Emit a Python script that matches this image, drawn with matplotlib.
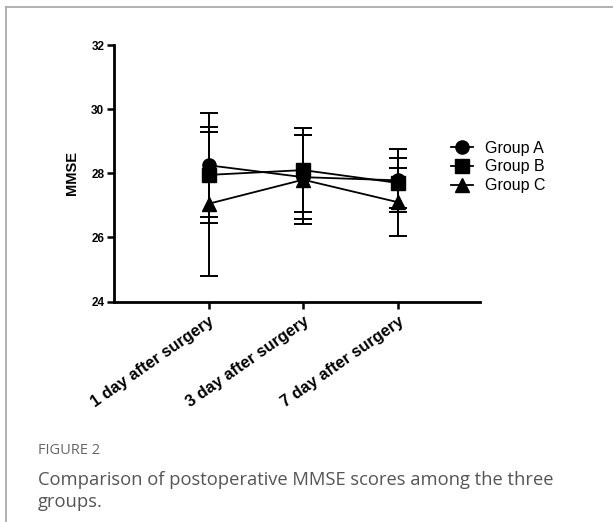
import matplotlib
matplotlib.use("Agg")
import matplotlib.pyplot as plt
from matplotlib.lines import Line2D

categories = ["1 day after surgery", "3 day after surgery", "7 day after surgery"]
groups = ["Group A", "Group B", "Group C"]
group_a_mean = [28.25, 27.88, 27.78]
group_a_sd = [1.62, 1.30, 0.98]
group_b_mean = [27.95, 28.10, 27.70]
group_b_sd = [1.50, 1.32, 0.77]
group_c_mean = [27.05, 27.80, 27.10]
group_c_sd = [2.25, 1.38, 1.05]
y_ticks = [24, 26, 28, 30, 32]

W, H = 613, 522
fig = plt.figure(figsize=(W / 100, H / 100), dpi=100)
fig.patch.set_facecolor("white")

# frame lines (top and left)
fig.add_artist(Line2D([6 / W, 1], [1 - 7 / H, 1 - 7 / H], transform=fig.transFigure,
                      color="#aaaaaa", lw=1.3))
fig.add_artist(Line2D([6 / W, 6 / W], [0, 1 - 7 / H], transform=fig.transFigure,
                      color="#aaaaaa", lw=1.3))

left, right = 114 / W, 480 / W
bottom, top = 1 - 301.6 / H, 1 - 45 / H
ax = fig.add_axes([left, bottom, right - left, top - bottom])

x = [1, 2, 3]
means = [group_a_mean, group_b_mean, group_c_mean]
sds = [group_a_sd, group_b_sd, group_c_sd]
markers = ["o", "s", "^"]
handles = []
for m, s, mk, g in zip(means, sds, markers, groups):
    ax.errorbar(x, m, yerr=s, fmt="none", ecolor="black", elinewidth=1.4,
                capsize=6.5, capthick=1.4, zorder=2)
    h, = ax.plot(x, m, color="black", lw=1.3, marker=mk, markersize=9.5,
                 markerfacecolor="black", markeredgecolor="black", label=g, zorder=3)
    handles.append(h)

ax.set_xlim(0, 3.87)
ax.set_ylim(24, 32)
ax.set_yticks(y_ticks)
ax.set_xticks(x)
ax.set_xticklabels(categories, rotation=35, ha="right", rotation_mode="anchor",
                   fontsize=11.8, fontweight="bold", family="Liberation Sans")
for lab in ax.get_yticklabels():
    lab.set_fontsize(8.5)
    lab.set_fontweight("bold")
    lab.set_family("Liberation Sans")
ax.spines["top"].set_visible(False)
ax.spines["right"].set_visible(False)
ax.spines["left"].set_linewidth(2.0)
ax.spines["bottom"].set_linewidth(2.0)
ax.tick_params(axis="both", direction="out", width=1.8, length=5, pad=2)
ax.tick_params(axis="x", pad=4)
ax.set_ylabel("MMSE", fontsize=10.5, fontweight="bold", family="Liberation Sans", labelpad=9)

leg = fig.legend(handles=handles, labels=groups, loc="center left",
                 bbox_to_anchor=(451 / W, 1 - 167 / H), frameon=False,
                 prop={"family": "Liberation Sans", "size": 11.5},
                 handlelength=1.4, handletextpad=0.7, labelspacing=0.25,
                 borderaxespad=0, borderpad=0)

fig.text(38 / W, 1 - 451 / H, "FIGURE 2", fontsize=10.5, color="#666666",
         family="Open Sans", va="center", ha="left")
fig.text(38 / W, 1 - 491 / H,
         "Comparison of postoperative MMSE scores among the three\ngroups.",
         fontsize=13.2, color="#555555", family="Open Sans", va="center", ha="left",
         linespacing=1.35)

fig.savefig("out.png", dpi=100, facecolor="white")
